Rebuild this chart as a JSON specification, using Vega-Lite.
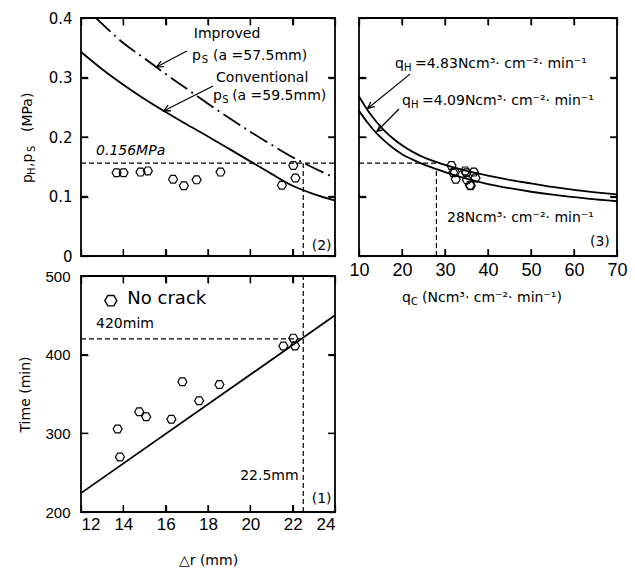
{
 "$schema": "https://vega.github.io/schema/vega-lite/v6.json",
 "background": "white",
 "padding": {"left": 18, "top": 10, "right": 4, "bottom": 2},
 "config": {
  "view": {"stroke": "black", "strokeWidth": 1.8},
  "axis": {"domain": false, "grid": false, "offset": -7, "labelColor": "black", "titleColor": "black", "titleFont": "DejaVu Sans", "titleFontWeight": "normal", "titleFontSize": 14, "labelFont": "Liberation Sans"},
  "text": {"font": "DejaVu Sans", "color": "black"}
 },
 "datasets": {
  "p2ticks": [{"x":14,"x2":14,"y":0,"y2":0.0118},{"x":16,"x2":16,"y":0,"y2":0.0118},{"x":18,"x2":18,"y":0,"y2":0.0118},{"x":20,"x2":20,"y":0,"y2":0.0118},{"x":22,"x2":22,"y":0,"y2":0.0118},{"x":14,"x2":14,"y":0.4,"y2":0.3882},{"x":16,"x2":16,"y":0.4,"y2":0.3882},{"x":18,"x2":18,"y":0.4,"y2":0.3882},{"x":20,"x2":20,"y":0.4,"y2":0.3882},{"x":22,"x2":22,"y":0.4,"y2":0.3882},{"x":12,"x2":12.33,"y":0.1,"y2":0.1},{"x":12,"x2":12.33,"y":0.2,"y2":0.2},{"x":12,"x2":12.33,"y":0.3,"y2":0.3},{"x":24,"x2":23.67,"y":0.1,"y2":0.1},{"x":24,"x2":23.67,"y":0.2,"y2":0.2},{"x":24,"x2":23.67,"y":0.3,"y2":0.3}],
  "p1ticks": [{"x":14,"x2":14,"y":200,"y2":208.9},{"x":16,"x2":16,"y":200,"y2":208.9},{"x":18,"x2":18,"y":200,"y2":208.9},{"x":20,"x2":20,"y":200,"y2":208.9},{"x":22,"x2":22,"y":200,"y2":208.9},{"x":14,"x2":14,"y":500,"y2":491.1},{"x":16,"x2":16,"y":500,"y2":491.1},{"x":18,"x2":18,"y":500,"y2":491.1},{"x":20,"x2":20,"y":500,"y2":491.1},{"x":22,"x2":22,"y":500,"y2":491.1},{"x":12,"x2":12.33,"y":300,"y2":300},{"x":12,"x2":12.33,"y":400,"y2":400},{"x":24,"x2":23.67,"y":300,"y2":300},{"x":24,"x2":23.67,"y":400,"y2":400}],
  "p3ticks": [{"x":20,"x2":20,"y":0,"y2":0.0118},{"x":30,"x2":30,"y":0,"y2":0.0118},{"x":40,"x2":40,"y":0,"y2":0.0118},{"x":50,"x2":50,"y":0,"y2":0.0118},{"x":60,"x2":60,"y":0,"y2":0.0118},{"x":20,"x2":20,"y":0.4,"y2":0.3882},{"x":30,"x2":30,"y":0.4,"y2":0.3882},{"x":40,"x2":40,"y":0.4,"y2":0.3882},{"x":50,"x2":50,"y":0.4,"y2":0.3882},{"x":60,"x2":60,"y":0.4,"y2":0.3882},{"x":10,"x2":11.63,"y":0.1,"y2":0.1},{"x":10,"x2":11.63,"y":0.2,"y2":0.2},{"x":10,"x2":11.63,"y":0.3,"y2":0.3},{"x":70,"x2":68.37,"y":0.1,"y2":0.1},{"x":70,"x2":68.37,"y":0.2,"y2":0.2},{"x":70,"x2":68.37,"y":0.3,"y2":0.3}],
  "p2conv": [{"x":12,"y":0.343},{"x":13,"y":0.314},{"x":14,"y":0.288},{"x":15,"y":0.264},{"x":16,"y":0.242},{"x":17,"y":0.221},{"x":18,"y":0.201},{"x":19,"y":0.180},{"x":20,"y":0.159},{"x":21,"y":0.138},{"x":22,"y":0.118},{"x":23,"y":0.104},{"x":24,"y":0.093}],
  "p2impr": [{"x":12.7,"y":0.400},{"x":13,"y":0.390},{"x":14,"y":0.358},{"x":15,"y":0.332},{"x":16,"y":0.306},{"x":17,"y":0.281},{"x":18,"y":0.256},{"x":19,"y":0.232},{"x":20,"y":0.209},{"x":21,"y":0.187},{"x":22,"y":0.166},{"x":23,"y":0.148},{"x":24,"y":0.131}],
  "p2rules": [{"x":12,"x2":24,"y":0.156,"y2":0.156},{"x":22.5,"x2":22.5,"y":0,"y2":0.156}],
  "p2arrows": [{"x":17.0,"y":0.3445,"x2":15.57,"y2":0.3176},{"x":18.24,"y":0.2857,"x2":15.9,"y2":0.2437}],
  "p2heads": [{"id":1,"x":15.57,"y":0.3176},{"id":2,"x":15.9,"y":0.2437}],
  "p2pts": [{"x":13.68,"y":0.140},{"x":14.01,"y":0.140},{"x":14.81,"y":0.141},{"x":15.16,"y":0.143},{"x":16.35,"y":0.129},{"x":16.86,"y":0.118},{"x":17.46,"y":0.128},{"x":18.59,"y":0.141},{"x":21.49,"y":0.119},{"x":22.03,"y":0.152},{"x":22.13,"y":0.131}],
  "p2txt": [{"x":17.33,"y":0.366,"t":"Improved"},{"x":17.24,"y":0.329,"t":"p"},{"x":18.24,"y":0.329,"t":"(a =57.5mm)"},{"x":18.38,"y":0.292,"t":"Conventional"},{"x":18.24,"y":0.262,"t":"p"},{"x":19.14,"y":0.262,"t":"(a =59.5mm)"},{"x":22.9,"y":0.010,"t":"(2)"}],
  "p2sub": [{"x":17.71,"y":0.329,"t":"S"},{"x":18.67,"y":0.262,"t":"S"}],
  "p2ital": [{"x":12.71,"y":0.1697,"t":"0.156MPa"}],
  "p2yt": [{"x":9.667,"y":0.1227,"t":"p"},{"x":9.667,"y":0.1496,"t":",p"},{"x":9.667,"y":0.2084,"t":"(MPa)"}],
  "p2yts": [{"x":9.667,"y":0.1361,"t":"H"},{"x":9.667,"y":0.1748,"t":"S"}],
  "p3up": [{"x":10,"y":0.268},{"x":12,"y":0.245},{"x":14,"y":0.226},{"x":16,"y":0.210},{"x":18,"y":0.197},{"x":20,"y":0.186},{"x":22.5,"y":0.175},{"x":25,"y":0.166},{"x":28,"y":0.158},{"x":30,"y":0.153},{"x":35,"y":0.143},{"x":40,"y":0.135},{"x":45,"y":0.128},{"x":50,"y":0.122},{"x":55,"y":0.116},{"x":60,"y":0.111},{"x":65,"y":0.107},{"x":70,"y":0.1035}],
  "p3lo": [{"x":10,"y":0.244},{"x":12,"y":0.224},{"x":14,"y":0.207},{"x":16,"y":0.193},{"x":18,"y":0.181},{"x":20,"y":0.171},{"x":22.5,"y":0.162},{"x":25,"y":0.154},{"x":28,"y":0.146},{"x":30,"y":0.141},{"x":35,"y":0.130},{"x":40,"y":0.121},{"x":45,"y":0.114},{"x":50,"y":0.108},{"x":55,"y":0.103},{"x":60,"y":0.099},{"x":65,"y":0.095},{"x":70,"y":0.092}],
  "p3rules": [{"x":10,"x2":28,"y":0.156,"y2":0.156},{"x":28,"x2":28,"y":0,"y2":0.146}],
  "p3arrows": [{"x":21.86,"y":0.3057,"x2":12.0,"y2":0.248},{"x":19.3,"y":0.247,"x2":14.19,"y2":0.2097}],
  "p3heads": [{"id":1,"x":12.0,"y":0.248},{"id":2,"x":14.19,"y":0.2097}],
  "p3pts": [{"x":31.5,"y":0.152},{"x":31.9,"y":0.140},{"x":32.3,"y":0.141},{"x":32.5,"y":0.129},{"x":34.7,"y":0.143},{"x":35.0,"y":0.140},{"x":36.7,"y":0.141},{"x":35.1,"y":0.128},{"x":37.1,"y":0.131},{"x":36.0,"y":0.118},{"x":35.8,"y":0.119}],
  "p3txt": [{"x":18.37,"y":0.3157,"t":"q"},{"x":23.02,"y":0.3157,"t":"=4.83Ncm³· cm⁻²· min⁻¹"},{"x":20.0,"y":0.2538,"t":"q"},{"x":24.65,"y":0.2538,"t":"=4.09Ncm³· cm⁻²· min⁻¹"},{"x":30.47,"y":0.0578,"t":"28Ncm³· cm⁻²· min⁻¹"},{"x":63.72,"y":0.016,"t":"(3)"},{"x":20.0,"y":-0.078,"t":"q"},{"x":24.65,"y":-0.078,"t":"(Ncm³· cm⁻²· min⁻¹)"}],
  "p3sub": [{"x":20.47,"y":0.3157,"t":"H"},{"x":22.09,"y":0.2538,"t":"H"},{"x":22.09,"y":-0.078,"t":"C"}],
  "p1line": [{"x":12,"y":224},{"x":24,"y":450}],
  "p1rules": [{"x":12,"x2":22.5,"y":420,"y2":420},{"x":22.5,"x2":22.5,"y":200,"y2":500}],
  "p1pts": [{"x":13.73,"y":305.5},{"x":13.84,"y":270},{"x":14.75,"y":327.5},{"x":15.08,"y":321},{"x":16.27,"y":318},{"x":16.79,"y":365.5},{"x":17.58,"y":341.5},{"x":18.54,"y":362},{"x":21.56,"y":411},{"x":22.03,"y":421},{"x":22.11,"y":411}],
  "p1leg": [{"x":13.41,"y":468.6}],
  "p1big": [{"x":14.19,"y":464,"t":"No crack"}],
  "p1txt": [{"x":12.71,"y":433.5,"t":"420mim"},{"x":19.52,"y":240.7,"t":"22.5mm"},{"x":22.9,"y":211.4,"t":"(1)"}]
 },
 "spacing": 8,
 "hconcat": [
  {
   "spacing": 3,
   "vconcat": [
    {
     "width": 254, "height": 238,
     "encoding": {
      "x": {"field": "x", "type": "quantitative", "scale": {"domain": [12, 24], "nice": false, "zero": false}, "axis": null},
      "y": {"field": "y", "type": "quantitative", "scale": {"domain": [0, 0.4], "nice": false, "zero": false}, "axis": null}
     },
     "layer": [
      {"data": {"name": "p2conv"}, "mark": {"type": "line", "interpolate": "monotone", "strokeWidth": 1.8, "color": "black"},
       "encoding": {
        "x": {"field": "x", "type": "quantitative", "scale": {"domain": [12, 24], "nice": false, "zero": false}, "axis": {"orient": "bottom", "values": [12,14,16,18,20,22,24], "labels": false, "title": null, "ticks": true, "tickSize": 7, "tickColor": "black", "tickWidth": 1.3, "tickOpacity": 1}},
        "y": {"field": "y", "type": "quantitative", "scale": {"domain": [0, 0.4], "nice": false, "zero": false}, "axis": {"orient": "left", "values": [0,0.1,0.2,0.3,0.4], "labelExpr": "datum.value == 0 ? '0' : format(datum.value, '.1f')", "labelFont": "DejaVu Sans", "labelFontSize": 15, "labelPadding": 9, "title": null, "ticks": true, "tickSize": 7, "tickColor": "black", "tickWidth": 1.3, "tickOpacity": 1}}
       }},
      {"data": {"name": "p2impr"}, "mark": {"type": "line", "interpolate": "monotone", "strokeWidth": 1.8, "color": "black", "strokeDash": [20, 5, 2, 5]}},
      {"data": {"name": "p2ticks"}, "mark": {"type": "rule", "strokeWidth": 1.3, "color": "black"}, "encoding": {"x2": {"field": "x2"}, "y2": {"field": "y2"}}},
      {"data": {"name": "p2rules"}, "mark": {"type": "rule", "strokeDash": [5, 3], "strokeWidth": 1.2, "color": "black"}, "encoding": {"x2": {"field": "x2"}, "y2": {"field": "y2"}}},
      {"data": {"name": "p2arrows"}, "mark": {"type": "rule", "strokeWidth": 1.2, "color": "black"}, "encoding": {"x2": {"field": "x2"}, "y2": {"field": "y2"}}},
      {"data": {"name": "p2heads"}, "transform": [{"filter": "datum.id == 1"}], "mark": {"type": "point", "shape": "M-1.6,-0.75L0,0L-1.6,0.75", "size": 70, "filled": false, "stroke": "black", "strokeWidth": 1.3, "opacity": 1, "angle": 152}},
      {"data": {"name": "p2heads"}, "transform": [{"filter": "datum.id == 2"}], "mark": {"type": "point", "shape": "M-1.6,-0.75L0,0L-1.6,0.75", "size": 70, "filled": false, "stroke": "black", "strokeWidth": 1.3, "opacity": 1, "angle": 153}},
      {"data": {"name": "p2pts"}, "mark": {"type": "point", "shape": "M-1,0L-0.5,-0.866L0.5,-0.866L1,0L0.5,0.866L-0.5,0.866Z", "size": 81, "filled": false, "stroke": "black", "strokeWidth": 1.2, "opacity": 1},
       "encoding": {
        "x": {"field": "x", "type": "quantitative", "scale": {"domain": [12, 24], "nice": false, "zero": false}, "axis": {"orient": "top", "values": [12,14,16,18,20,22,24], "labels": false, "title": null, "ticks": true, "tickSize": 7, "tickColor": "black", "tickWidth": 1.3, "tickOpacity": 1}},
        "y": {"field": "y", "type": "quantitative", "scale": {"domain": [0, 0.4], "nice": false, "zero": false}, "axis": {"orient": "right", "values": [0,0.1,0.2,0.3,0.4], "labels": false, "title": null, "ticks": true, "tickSize": 7, "tickColor": "black", "tickWidth": 1.3, "tickOpacity": 1}}
       }},
      {"data": {"name": "p2txt"}, "mark": {"type": "text", "align": "left", "baseline": "alphabetic", "font": "DejaVu Sans", "fontSize": 14}, "encoding": {"text": {"field": "t"}}},
      {"data": {"name": "p2sub"}, "mark": {"type": "text", "align": "left", "baseline": "alphabetic", "font": "DejaVu Sans", "fontSize": 10, "dy": 3}, "encoding": {"text": {"field": "t"}}},
      {"data": {"name": "p2ital"}, "mark": {"type": "text", "align": "left", "baseline": "alphabetic", "font": "DejaVu Sans", "fontSize": 14, "fontStyle": "italic"}, "encoding": {"text": {"field": "t"}}},
      {"data": {"name": "p2yt"}, "mark": {"type": "text", "align": "left", "baseline": "alphabetic", "font": "DejaVu Sans", "fontSize": 14, "angle": 270}, "encoding": {"text": {"field": "t"}}},
      {"data": {"name": "p2yts"}, "mark": {"type": "text", "align": "left", "baseline": "alphabetic", "font": "DejaVu Sans", "fontSize": 10, "angle": 270, "dy": 3}, "encoding": {"text": {"field": "t"}}}
     ]
    },
    {
     "width": 254, "height": 236,
     "encoding": {
      "x": {"field": "x", "type": "quantitative", "scale": {"domain": [12, 24], "nice": false, "zero": false}, "axis": null},
      "y": {"field": "y", "type": "quantitative", "scale": {"domain": [200, 500], "nice": false, "zero": false}, "axis": null}
     },
     "layer": [
      {"data": {"name": "p1line"}, "mark": {"type": "line", "strokeWidth": 1.8, "color": "black"},
       "encoding": {
        "x": {"field": "x", "type": "quantitative", "scale": {"domain": [12, 24], "nice": false, "zero": false}, "axis": {"orient": "bottom", "values": [12,14,16,18,20,22,24], "labelFontSize": 17, "labelPadding": 4, "title": "△r (mm)", "titlePadding": 21, "ticks": true, "tickSize": 7, "tickColor": "black", "tickWidth": 1.3, "tickOpacity": 1}},
        "y": {"field": "y", "type": "quantitative", "scale": {"domain": [200, 500], "nice": false, "zero": false}, "axis": {"orient": "left", "values": [200,300,400,500], "labelFontSize": 15, "labelPadding": 11, "title": "Time (min)", "titlePadding": 12, "ticks": true, "tickSize": 7, "tickColor": "black", "tickWidth": 1.3, "tickOpacity": 1}}
       }},
      {"data": {"name": "p1ticks"}, "mark": {"type": "rule", "strokeWidth": 1.3, "color": "black"}, "encoding": {"x2": {"field": "x2"}, "y2": {"field": "y2"}}},
      {"data": {"name": "p1rules"}, "mark": {"type": "rule", "strokeDash": [5, 3], "strokeWidth": 1.2, "color": "black"}, "encoding": {"x2": {"field": "x2"}, "y2": {"field": "y2"}}},
      {"data": {"name": "p1pts"}, "mark": {"type": "point", "shape": "M-1,0L-0.5,-0.866L0.5,-0.866L1,0L0.5,0.866L-0.5,0.866Z", "size": 81, "filled": false, "stroke": "black", "strokeWidth": 1.2, "opacity": 1},
       "encoding": {
        "x": {"field": "x", "type": "quantitative", "scale": {"domain": [12, 24], "nice": false, "zero": false}, "axis": {"orient": "top", "values": [12,14,16,18,20,22,24], "labels": false, "title": null, "ticks": true, "tickSize": 7, "tickColor": "black", "tickWidth": 1.3, "tickOpacity": 1}},
        "y": {"field": "y", "type": "quantitative", "scale": {"domain": [200, 500], "nice": false, "zero": false}, "axis": {"orient": "right", "values": [200,300,400,500], "labels": false, "title": null, "ticks": true, "tickSize": 7, "tickColor": "black", "tickWidth": 1.3, "tickOpacity": 1}}
       }},
      {"data": {"name": "p1leg"}, "mark": {"type": "point", "shape": "M-1,0L-0.5,-0.866L0.5,-0.866L1,0L0.5,0.866L-0.5,0.866Z", "size": 144, "filled": false, "stroke": "black", "strokeWidth": 1.4, "opacity": 1}},
      {"data": {"name": "p1big"}, "mark": {"type": "text", "align": "left", "baseline": "alphabetic", "font": "DejaVu Sans", "fontSize": 18}, "encoding": {"text": {"field": "t"}}},
      {"data": {"name": "p1txt"}, "mark": {"type": "text", "align": "left", "baseline": "alphabetic", "font": "DejaVu Sans", "fontSize": 14}, "encoding": {"text": {"field": "t"}}}
     ]
    }
   ]
  },
  {
   "width": 258, "height": 238,
   "encoding": {
    "x": {"field": "x", "type": "quantitative", "scale": {"domain": [10, 70], "nice": false, "zero": false}, "axis": null},
    "y": {"field": "y", "type": "quantitative", "scale": {"domain": [0, 0.4], "nice": false, "zero": false}, "axis": null}
   },
   "layer": [
    {"data": {"name": "p3up"}, "mark": {"type": "line", "interpolate": "monotone", "strokeWidth": 1.8, "color": "black"},
     "encoding": {
      "x": {"field": "x", "type": "quantitative", "scale": {"domain": [10, 70], "nice": false, "zero": false}, "axis": {"orient": "bottom", "values": [10,20,30,40,50,60,70], "labelFontSize": 18, "labelPadding": 5, "labelFlush": false, "title": null, "ticks": true, "tickSize": 7, "tickColor": "black", "tickWidth": 1.3, "tickOpacity": 1}},
      "y": {"field": "y", "type": "quantitative", "scale": {"domain": [0, 0.4], "nice": false, "zero": false}, "axis": {"orient": "left", "values": [0,0.1,0.2,0.3,0.4], "labels": false, "title": null, "ticks": true, "tickSize": 7, "tickColor": "black", "tickWidth": 1.3, "tickOpacity": 1}}
     }},
    {"data": {"name": "p3lo"}, "mark": {"type": "line", "interpolate": "monotone", "strokeWidth": 1.8, "color": "black"}},
    {"data": {"name": "p3ticks"}, "mark": {"type": "rule", "strokeWidth": 1.3, "color": "black"}, "encoding": {"x2": {"field": "x2"}, "y2": {"field": "y2"}}},
    {"data": {"name": "p3rules"}, "mark": {"type": "rule", "strokeDash": [5, 3], "strokeWidth": 1.2, "color": "black"}, "encoding": {"x2": {"field": "x2"}, "y2": {"field": "y2"}}},
    {"data": {"name": "p3arrows"}, "mark": {"type": "rule", "strokeWidth": 1.2, "color": "black"}, "encoding": {"x2": {"field": "x2"}, "y2": {"field": "y2"}}},
    {"data": {"name": "p3heads"}, "transform": [{"filter": "datum.id == 1"}], "mark": {"type": "point", "shape": "M-1.6,-0.75L0,0L-1.6,0.75", "size": 70, "filled": false, "stroke": "black", "strokeWidth": 1.3, "opacity": 1, "angle": 141}},
    {"data": {"name": "p3heads"}, "transform": [{"filter": "datum.id == 2"}], "mark": {"type": "point", "shape": "M-1.6,-0.75L0,0L-1.6,0.75", "size": 70, "filled": false, "stroke": "black", "strokeWidth": 1.3, "opacity": 1, "angle": 142}},
    {"data": {"name": "p3pts"}, "mark": {"type": "point", "shape": "M-1,0L-0.5,-0.866L0.5,-0.866L1,0L0.5,0.866L-0.5,0.866Z", "size": 81, "filled": false, "stroke": "black", "strokeWidth": 1.2, "opacity": 1},
     "encoding": {
      "x": {"field": "x", "type": "quantitative", "scale": {"domain": [10, 70], "nice": false, "zero": false}, "axis": {"orient": "top", "values": [10,20,30,40,50,60,70], "labels": false, "title": null, "ticks": true, "tickSize": 7, "tickColor": "black", "tickWidth": 1.3, "tickOpacity": 1}},
      "y": {"field": "y", "type": "quantitative", "scale": {"domain": [0, 0.4], "nice": false, "zero": false}, "axis": {"orient": "right", "values": [0,0.1,0.2,0.3,0.4], "labels": false, "title": null, "ticks": true, "tickSize": 7, "tickColor": "black", "tickWidth": 1.3, "tickOpacity": 1}}
     }},
    {"data": {"name": "p3txt"}, "mark": {"type": "text", "align": "left", "baseline": "alphabetic", "font": "DejaVu Sans", "fontSize": 14}, "encoding": {"text": {"field": "t"}}},
    {"data": {"name": "p3sub"}, "mark": {"type": "text", "align": "left", "baseline": "alphabetic", "font": "DejaVu Sans", "fontSize": 10, "dy": 3}, "encoding": {"text": {"field": "t"}}}
   ]
  }
 ]
}
